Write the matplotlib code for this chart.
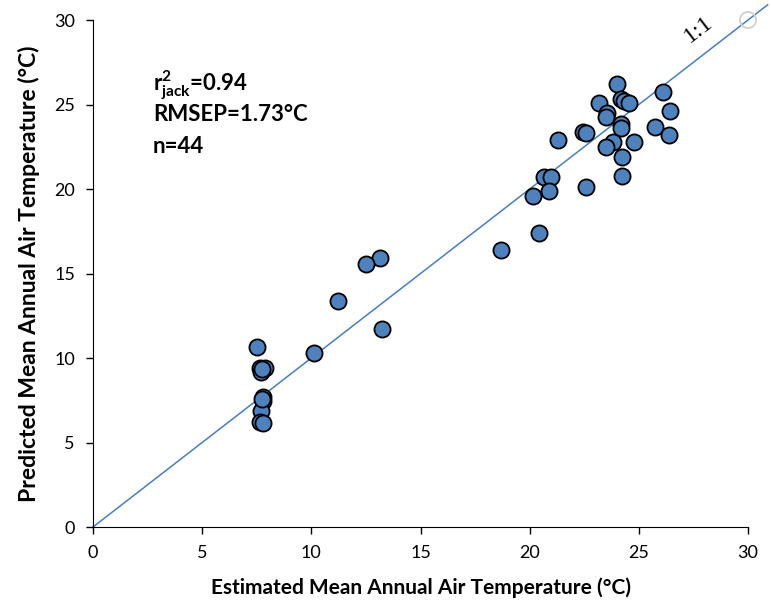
import numpy as np
import matplotlib.pyplot as plt

plt.rcParams['font.family'] = ['Lato', 'DejaVu Sans']
plt.rcParams['mathtext.fontset'] = 'custom'
plt.rcParams['mathtext.rm'] = 'Lato:bold'
plt.rcParams['mathtext.it'] = 'Lato:bold'

# estimated (x) vs predicted (y) MAAT
estimated = [13.15, 12.5, 11.2, 13.25, 10.12, 7.5, 7.65, 7.88, 7.7, 7.75,
             7.8, 7.8, 7.68, 7.65, 7.8, 7.72,
             23.99, 26.1, 24.17, 24.32, 24.57, 23.18, 26.43, 23.53, 23.5, 24.2,
             24.2, 22.42, 22.6, 25.73, 26.39, 21.32, 23.8, 24.8, 23.5, 24.22,
             24.22, 20.67, 20.98, 20.9, 20.14, 22.58, 20.43, 18.68]
predicted = [15.94, 15.58, 13.37, 11.72, 10.3, 10.67, 9.43, 9.43, 9.15, 9.35,
             7.71, 7.45, 6.86, 6.19, 6.13, 7.6,
             26.21, 25.74, 25.33, 25.22, 25.1, 25.08, 24.6, 24.47, 24.24, 23.85,
             23.63, 23.37, 23.3, 23.69, 23.18, 22.9, 22.78, 22.78, 22.5, 21.87,
             20.79, 20.73, 20.73, 19.88, 19.57, 20.1, 17.38, 16.39]

one_to_one = [0, 30.9]
ticks = [0, 5, 10, 15, 20, 25, 30]

fig = plt.figure(figsize=(7.71, 6.01), dpi=100)
ax = fig.add_axes([0.1206, 0.1231, 0.8496, 0.8436])

ax.plot(one_to_one, one_to_one, color='#4A7EBB', lw=1.1, zorder=1, clip_on=False)
ax.scatter(estimated, predicted, s=135, c='#4F81BD', edgecolors='black',
           linewidths=1.3, zorder=3, clip_on=False)
# hidden anchor point at (30, 30)
ax.scatter([30], [30], s=135, facecolors='none', edgecolors='#D0D0D0',
           linewidths=1.3, zorder=2, clip_on=False)

ax.text(27.75, 29.45, '1:1', family='Liberation Serif', fontsize=17, rotation=37.7,
        ha='center', va='center')

ax.text(2.75, 25.8, r'r$^{2}_{\mathrm{jack}}$=0.94', fontsize=16, fontweight='bold')
ax.text(2.75, 24.02, 'RMSEP=1.73°C', fontsize=16, fontweight='bold')
ax.text(2.75, 22.13, 'n=44', fontsize=16, fontweight='bold')

ax.set_xlim(0, 30)
ax.set_ylim(0, 30)
ax.set_xticks(ticks)
ax.set_yticks(ticks)
ax.tick_params(direction='out', length=5, width=1, labelsize=13, pad=8)
ax.spines['top'].set_visible(False)
ax.spines['right'].set_visible(False)
ax.set_xlabel('Estimated Mean Annual Air Temperature (°C)', fontsize=15,
              fontweight='bold', labelpad=12)
ax.set_ylabel('Predicted Mean Annual Air Temperature (°C)', fontsize=16.5,
              fontweight='bold', labelpad=10)

fig.savefig('out.png', dpi=100)
